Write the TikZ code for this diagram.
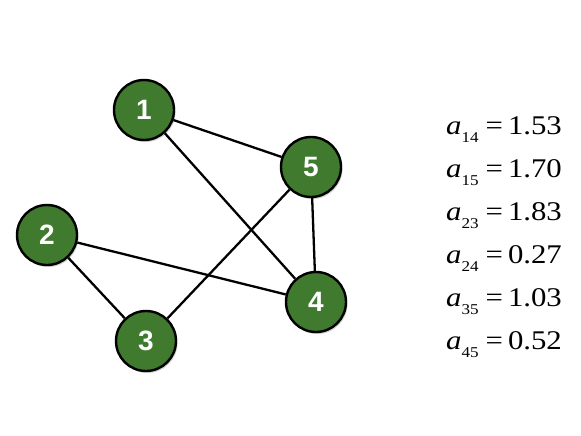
\documentclass[tikz,border=0pt]{standalone}
\usepackage{fontspec}
\setmainfont{Liberation Serif}
\newfontfamily\nodefont{Liberation Sans}
\usetikzlibrary{shadows}
\definecolor{nodegreen}{RGB}{64,122,46}
\tikzset{
  vert/.style={circle, draw=black, line width=2.4pt, fill=nodegreen, minimum size=60pt, inner sep=0pt,
    text=white, font=\nodefont\bfseries\fontsize{28}{28}\selectfont,
    drop shadow={shadow xshift=1.5pt, shadow yshift=-2pt, opacity=0.35}},
  edge/.style={line width=2.3pt, black},
  eq/.style={anchor=base west, inner sep=0pt, font=\fontsize{27}{27}\selectfont}
}
\newcommand{\sbs}[1]{\raisebox{-8pt}{\fontsize{15}{15}\selectfont #1}}
\newcommand{\eqline}[2]{\scalebox{1.14}[1]{\textit{a}\sbs{#1}\hspace{6pt}=\hspace{4.5pt}#2}}
\begin{document}
\begin{tikzpicture}[x=1pt,y=-1pt]
\useasboundingbox (0,0) rectangle (581,436);
\fill[white] (0,0) rectangle (581,436);
\node[vert] (n1) at (144,110) {1};
\node[vert] (n5) at (311,167) {5};
\node[vert] (n2) at (47,235) {2};
\node[vert] (n4) at (316,302) {4};
\node[vert] (n3) at (146,341) {3};
\draw[edge] (n1) -- (n5);
\draw[edge] (n1) -- (n4);
\draw[edge] (n2) -- (n4);
\draw[edge] (n2) -- (n3);
\draw[edge] (n3) -- (n5);
\draw[edge] (n5) -- (n4);
\node[eq] (e1) at (446,134) {\eqline{14}{1.53}};
\node[eq] (e2) at (446,177) {\eqline{15}{1.70}};
\node[eq] (e3) at (446,220) {\eqline{23}{1.83}};
\node[eq] (e4) at (446,263) {\eqline{24}{0.27}};
\node[eq] (e5) at (446,306) {\eqline{35}{1.03}};
\node[eq] (e6) at (446,349) {\eqline{45}{0.52}};
\end{tikzpicture}
\end{document}
